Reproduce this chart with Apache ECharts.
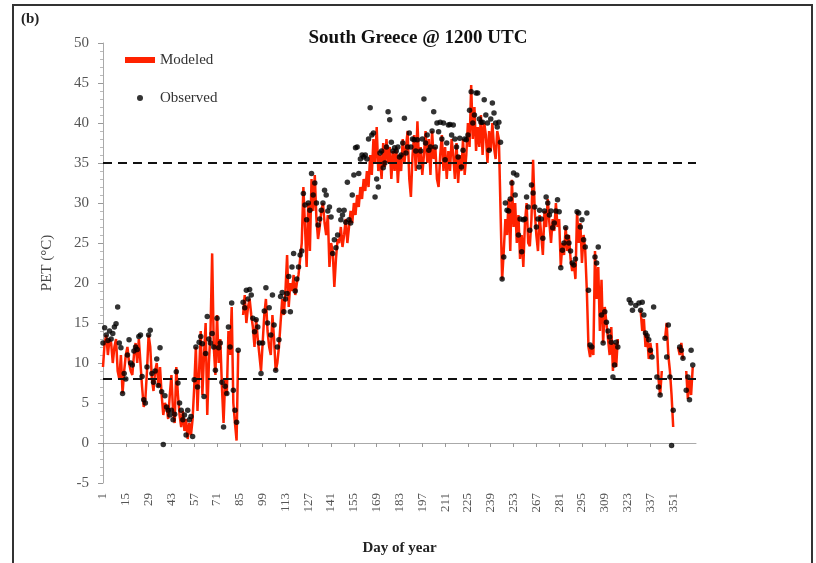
<!DOCTYPE html>
<html>
<head>
<meta charset="utf-8">
<title>South Greece @ 1200 UTC</title>
<script src="https://cdn.jsdelivr.net/npm/echarts/dist/echarts.min.js"></script>
<style>
  html, body { margin: 0; padding: 0; background: #fff; }
  #chart { width: 816px; height: 563px; }
</style>
</head>
<body>
<div id="chart"></div>
<script>
// Day-of-year PET at 1200 UTC, South Greece: modeled (line) vs observed (dots).
// null marks days without data.
const modeled = [
  9.5, 12.5, 13.5, 11, 13, 12.5, 10, 12, 13, 9,
  8, 11, 6.2, 9, 11, 12, 10, 9, 8.5, 11,
  12.5, 10, 13, 13, 7, 4.5, 5.5, 9, 13.5, 12,
  8, 6.5, 9, 10, 7, 9.5, 6, 3.5, 5, 4.5,
  3, 6, 8.5, 4, 2.5, 9.5, 6, 3.5, 2, 4,
  1.5, 3, 0.5, 2.5, 1, 3, 7, 12, 4, 9,
  14, 6, 11, 15, 3.5, 10, 14, 23.7, 12, 8.5,
  16, 10, 13, 7, 2.5, 8, 6, 14, 11, 17,
  5, 2.5, 0.3, 11.5, null, null, 16, 18.5, 15, 17,
  18, 16, 14.5, 12, 15.5, 13, 11, 9, 12.5, 16,
  18, 14, 12, 11, 16, 13, 9, 10, 12, 15,
  18, 16, 19, 23.5, 17, 20, 19, 21, 18.5, 20,
  21, 23, 25, 32, 27, 22, 30, 24, 33, 29,
  33.5, 28, 25.5, 27, 29, 30, 27.5, 26, 28.5, 22,
  25, 24, 19.5, 23, 25.5, 25, 27, 24.5, 26, 28,
  25, 27, 29, 27.5, 30, 28.5, 31, 29.5, 32, 30.5,
  33, 31.5, 34, 32, 36, 33.5, 38, 35, 39.5, 34,
  36, 33, 37.5, 34.5, 38, 35, 37, 33, 36.5, 34,
  37, 32.5, 36, 34, 38, 35, 37, 39, 33, 30.75,
  36, 38.5, 34, 40.2, 35, 37, 33.5, 36, 39, 35,
  38, 33.5, 39, 35.5, 37, 33, 32, 36, 38.5, 34,
  37, 33, 36.5, 34, 38, 36, 33, 37.5, 32.5, 36,
  34, 38, 33.5, 36, 40, 37, 44.75, 38, 42, 36.5,
  39.5, 37, 41, 36, 40, 38.5, 35, 39, 36.5, 40,
  37, 35.5, 39, 38, 38, 20.4, 24, 28, 26, 30.5,
  24, 32.9, 27, 30, 25, 28.5, 23, 26, 22, 27.5,
  30, 25, 24.6, 28, 35.4, 29, 26, 24, 28.5, 26,
  23.5, 29, 27, 30.5, 27.5, 25, 28, 26.5, 30, 27,
  28, 22, 25, 23.5, 27, 24, 26, 23, 21.5, 22.5,
  20.5, 29, 25, 27.5, 22.5, 26, 24, 19, 12, 10.75,
  12, 11, 24, 18, 22, 14, 20.4, 12.5, 17, 15,
  13, 11, 14.5, 9, 12.5, 9.5, 13, null, null, null,
  null, null, null, null, null, null, null, null, null, null,
  16.6, 14, 15.5, 12, 13.5, 10.5, 12.5, 11, null, null,
  12.5, 8, 6, 9, null, 13, 15, 11, 9, 6,
  2, null, null, 12, 11, 12.5, 10.5, null, 9, 5.5,
  8, 6, 9.5, null, null
];

const observed = [
  12.5, 14.4, 13.5, 12.8, 14, 13, 13.7, 14.5, 14.9, 17,
  12.5, 11.9, 6.2, 8.7, 8, 11, 12.9, 10, 9.75, 11.5,
  12, 11.7, 13.3, 13.5, 8.3, 5.4, 5, 9.5, 13.5, 14.1,
  8.7, 7.6, 9, 10.5, 7.2, 11.9, 6.4, -0.2, 5.9, 4.5,
  4.1, 3.5, 4.1, 2.9, 3.6, 8.9, 7.5, 5, 4.1, 2.9,
  3.5, 1, 4.1, 2.9, 3.3, 0.8, 7.9, 12, 7, 12.6,
  13.3, 12.4, 5.8, 11.2, 15.8, 13, 12.5, 13.7, 12, 9.1,
  15.6, 11.9, 12.5, 7.6, 2, 7.1, 6.2, 14.5, 12, 17.5,
  6.6, 4.1, 2.6, 11.6, null, null, 17.6, 16.9, 19.1, 18,
  19.2, 18.5, 15.6, 13.9, 15.4, 14.5, 12.5, 8.7, 12.5, 16.5,
  19.4, 15, 16.9, 13.5, 18.5, 14.75, 9.1, 12, 12.9, 18.3,
  18.8, 16.4, 18, 18.7, 20.8, 16.4, 22, 23.7, 19, 20.5,
  22, 23.5, 24, 31.2, 29.75, 27.9, 30, 29.1, 33.7, 31,
  32.5, 30, 27.25, 28, 29.1, 30, 31.6, 31, 29, 29.5,
  28.25, 23.7, 25.4, 24.4, 26, 29.1, 27.9, 28.5, 29.1, 27.6,
  32.6, 27.9, 27.5, 31, 33.5, 36.9, 37, 33.7, 35.5, 36,
  35.75, 36, 35.5, 38, 41.9, 38.5, 38.75, 30.75, 33, 32,
  36.25, 36.5, 34.4, 35, 37, 41.4, 40.4, 37.6, 36.5, 36.9,
  36.5, 37, 35.75, 36, 37.5, 40.6, 36.25, 37, 38.75, 37,
  38, 37.9, 36.5, 37.9, 34.5, 36.5, 38, 43, 37.5, 38.5,
  36.6, 37, 39, 41.4, 37, 40, 38.9, 40.1, 38, 40,
  35.4, 37.5, 39.75, 39.8, 38.5, 39.75, 38, 37, 35.75, 38.1,
  34.5, 36.6, 38, 37.9, 38.5, 41.6, 43.9, 40, 41, 43.75,
  43.75, 40.5, 40.1, 40.1, 42.9, 41, 40, 36.6, 40.5, 42.5,
  41.25, 40, 39.5, 40.1, 37.6, 20.5, 23.25, 30, 29.1, 29,
  30.5, 32.5, 33.75, 31, 33.5, 26, 28, 23.9, 27.9, 28,
  30.75, 29.5, 26.6, 32.25, 31.25, 29.5, 27, 28, 29.1, 28,
  25.6, 29, 30.75, 30, 28.5, 29, 26.9, 27.5, 29, 30.4,
  28.9, 21.9, 24.1, 25, 26.9, 25.75, 25, 24, 22.5, 22.25,
  23, 28.9, 28.75, 27, 27.9, 25.4, 24.5, 28.75, 19.1, 12.25,
  12, null, 23.25, 22.5, 24.5, null, 16, 12.5, 16.4, 15.1,
  14, 13.25, 12.6, 8.25, 9.75, 12.6, 12, null, null, null,
  null, null, null, 17.9, 17.5, 16.6, null, 17.2, null, 17.5,
  16.6, 17.6, 16, 13.75, 13.4, 12.9, 11.6, 10.75, 17, null,
  8.25, 7, 6, null, null, 13.1, 10.75, 14.75, 8.25, -0.3,
  4.1, null, null, null, 12, 11.6, 10.6, null, 6.6, 8.25,
  5.4, 11.6, 9.75, null, null
];

// Reference thresholds drawn as dashed lines
const thresholds = [35, 8];

// Day-of-year axis and the days that carry a tick label
const days = Array.from({ length: 365 }, (_, i) => String(i + 1));
const xTickLabels = ['1', '15', '29', '43', '57', '71', '85', '99', '113', '127', '141', '155', '169',
  '183', '197', '211', '225', '239', '253', '267', '281', '295', '309', '323', '337', '351'];

const SERIF = '"Liberation Serif", "DejaVu Serif", serif';
const RED = '#ff2200';
const showDay = (idx, val) => xTickLabels.indexOf(String(val)) !== -1;

const chart = echarts.init(document.getElementById('chart'), null, { renderer: 'canvas' });

chart.setOption({
  animation: false,
  backgroundColor: '#fff',
  graphic: [
    {
      type: 'rect',
      shape: { x: 13, y: 5, width: 799, height: 570 },
      style: { fill: 'none', stroke: '#333', lineWidth: 2 },
      silent: true
    },
    {
      type: 'text',
      x: 21, y: 19,
      style: { text: '(b)', font: 'bold 15px ' + SERIF, fill: '#222', textVerticalAlign: 'middle' }
    },
    {
      type: 'text',
      x: 418, y: 38,
      style: {
        text: 'South Greece @ 1200 UTC', font: 'bold 19px ' + SERIF, fill: '#111',
        textAlign: 'center', textVerticalAlign: 'middle'
      }
    }
  ],
  legend: {
    orient: 'vertical',
    left: 120,
    top: 46,
    itemWidth: 30,
    itemHeight: 6,
    itemGap: 20,
    textStyle: { fontFamily: SERIF, fontSize: 15, color: '#333', lineHeight: 18 },
    data: [
      { name: 'Modeled', icon: 'rect', itemStyle: { color: RED } },
      { name: 'Observed', icon: 'circle', itemStyle: { color: '#000' } }
    ]
  },
  grid: {
    left: 103, right: 120, top: 43, bottom: 80,
    containLabel: false,
    outerBoundsMode: 'none'
  },
  xAxis: {
    type: 'category',
    data: days,
    boundaryGap: false,
    name: 'Day of year',
    nameLocation: 'middle',
    nameGap: 58,
    nameTextStyle: { fontFamily: SERIF, fontSize: 15, fontWeight: 'bold', color: '#222' },
    axisLine: { lineStyle: { color: '#aaa', width: 1 } },
    axisTick: { show: true, interval: showDay, length: 4, lineStyle: { color: '#999' } },
    axisLabel: {
      interval: showDay,
      rotate: 90,
      margin: 10,
      fontFamily: SERIF,
      fontSize: 13,
      color: '#555'
    },
    splitLine: { show: false }
  },
  yAxis: {
    type: 'value',
    min: -5,
    max: 50,
    interval: 5,
    name: 'PET (°C)',
    nameLocation: 'middle',
    nameGap: 48,
    nameTextStyle: { fontFamily: SERIF, fontSize: 15, color: '#444' },
    axisLine: { show: true, lineStyle: { color: '#aaa', width: 1 } },
    axisTick: { show: true, inside: false, length: 5, lineStyle: { color: '#999' } },
    minorTick: { show: true, splitNumber: 5, length: 3, lineStyle: { color: '#bbb' } },
    axisLabel: { margin: 14, fontFamily: SERIF, fontSize: 15, color: '#555' },
    splitLine: { show: false }
  },
  series: [
    {
      name: 'Modeled',
      type: 'line',
      data: modeled,
      showSymbol: false,
      connectNulls: false,
      lineStyle: { color: RED, width: 2.5 },
      itemStyle: { color: RED },
      z: 2,
      markLine: {
        silent: true,
        symbol: 'none',
        label: { show: false },
        lineStyle: { color: '#111', type: [9, 6], width: 2 },
        data: thresholds.map(v => ({ yAxis: v }))
      }
    },
    {
      name: 'Observed',
      type: 'scatter',
      data: observed,
      symbol: 'circle',
      symbolSize: 5.5,
      itemStyle: { color: '#000' },
      z: 3
    }
  ]
});
</script>
</body>
</html>
